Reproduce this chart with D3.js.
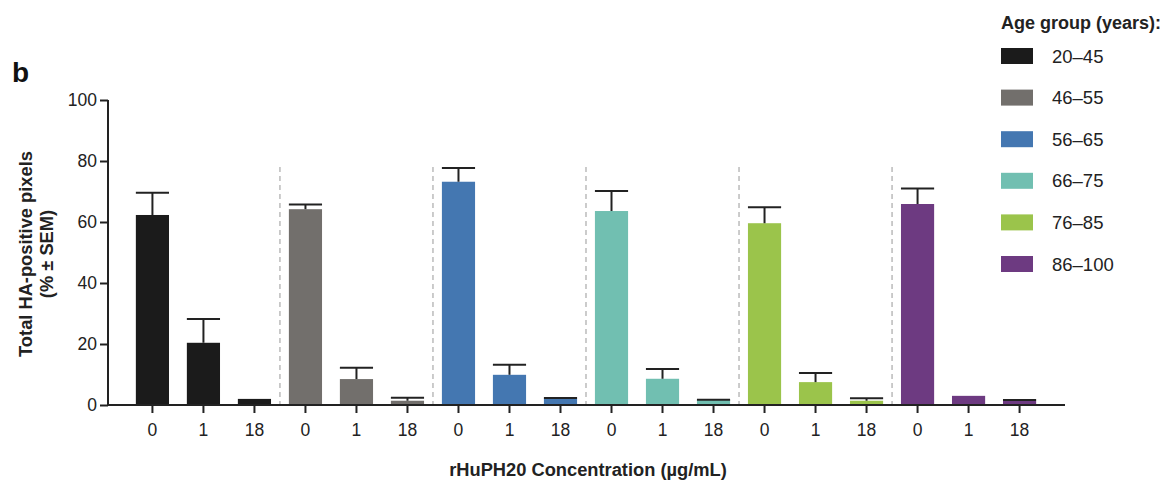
<!DOCTYPE html>
<html><head><meta charset="utf-8">
<script src="https://cdn.jsdelivr.net/npm/d3@7"></script>
<style>body{margin:0;background:#fff;} svg{display:block;font-family:"Liberation Sans",Arial,sans-serif;}</style>
</head><body>
<svg id="chart" width="1169" height="486"></svg>
<script>
const groups = ["20–45","46–55","56–65","66–75","76–85","86–100"];
const concentrations = ["0","1","18"];
const colors = ["#1b1b1b","#726f6c","#4477b1","#71bfb1","#9bc44b","#6d3a81"];
const means = [
  [62.3, 20.4, 2.0],
  [64.2, 8.5, 1.4],
  [73.2, 9.9, 2.1],
  [63.6, 8.6, 1.6],
  [59.6, 7.5, 1.4],
  [65.9, 3.0, 1.4]
];
const sems = [
  [7.3, 7.8, 0],
  [1.5, 3.7, 1.0],
  [4.5, 3.3, 0.2],
  [6.6, 3.2, 0.1],
  [5.2, 3.0, 0.8],
  [5.1, 0, 0.2]
];
const yTicks = [0,20,40,60,80,100];

const svg = d3.select("#chart");
const bars = [];
groups.forEach((g,gi)=>concentrations.forEach((c,ci)=>bars.push({id:gi+"-"+ci,g:gi,c,mean:means[gi][ci],sem:sems[gi][ci]})));

const x = d3.scaleBand().domain(bars.map(d=>d.id)).range([118,1054]).padding(0.35);
const y = d3.scaleLinear().domain([0,100]).range([405,100]);
const ink = "#222";
const FF = "Liberation Sans, Arial, sans-serif";

// separators
for(let gi=1; gi<groups.length; gi++){
  const xs = (x(gi+"-0") + x((gi-1)+"-2") + x.bandwidth())/2;
  svg.append("line").attr("x1",xs).attr("x2",xs).attr("y1",y(78)).attr("y2",y(0))
    .attr("stroke","#aaa").attr("stroke-width",1.2).attr("stroke-dasharray","5,4");
}

// bars
svg.selectAll("rect.bar").data(bars).join("rect").attr("class","bar")
  .attr("x",d=>x(d.id)).attr("width",x.bandwidth())
  .attr("y",d=>y(d.mean)).attr("height",d=>y(0)-y(d.mean))
  .attr("fill",d=>colors[d.g]);

// error bars
const eb = bars.filter(d=>d.sem>0);
svg.selectAll("line.ev").data(eb).join("line").attr("class","ev")
  .attr("x1",d=>x(d.id)+x.bandwidth()/2).attr("x2",d=>x(d.id)+x.bandwidth()/2)
  .attr("y1",d=>y(d.mean)).attr("y2",d=>y(d.mean+d.sem)).attr("stroke",ink).attr("stroke-width",2);
svg.selectAll("line.ec").data(eb).join("line").attr("class","ec")
  .attr("x1",d=>x(d.id)).attr("x2",d=>x(d.id)+x.bandwidth())
  .attr("y1",d=>y(d.mean+d.sem)).attr("y2",d=>y(d.mean+d.sem)).attr("stroke",ink).attr("stroke-width",2);

// y axis
const yAxis = svg.append("g").attr("transform","translate(108,0)")
  .call(d3.axisLeft(y).tickValues(yTicks).tickSize(8).tickPadding(3));
yAxis.select(".domain").attr("d","M0,"+(y(100))+"V"+(y(0)+1)).attr("stroke",ink).attr("stroke-width",2);
yAxis.selectAll(".tick line").attr("stroke",ink).attr("stroke-width",2);
yAxis.selectAll(".tick text").attr("font-size",17.5).attr("fill","#222").attr("font-family",FF);

// x axis
const xAxis = svg.append("g").attr("transform","translate(0,405)")
  .call(d3.axisBottom(x).tickFormat(id=>concentrations[+id.split("-")[1]]).tickSize(8).tickPadding(11));
xAxis.select(".domain").attr("d","M107,0H1065").attr("stroke",ink).attr("stroke-width",2);
xAxis.selectAll(".tick line").attr("stroke",ink).attr("stroke-width",2);
xAxis.selectAll(".tick text").attr("font-size",17.5).attr("fill","#222").attr("font-family",FF);

// titles
svg.append("text").attr("x",588).attr("y",476).attr("text-anchor","middle")
  .attr("font-size",18.3).attr("font-weight","bold").attr("fill","#222").text("rHuPH20 Concentration (µg/mL)");
const yt = svg.append("text").attr("transform","translate(32,254) rotate(-90)").attr("text-anchor","middle")
  .attr("font-size",18.3).attr("font-weight","bold").attr("fill","#222");
yt.append("tspan").attr("x",0).attr("dy",0).text("Total HA-positive pixels");
yt.append("tspan").attr("x",0).attr("dy",21).text("(% ± SEM)");

svg.append("text").attr("x",12).attr("y",82).attr("font-size",28).attr("font-weight","bold").attr("fill","#111").text("b");

// legend
svg.append("text").attr("x",1001).attr("y",29).attr("font-size",18).attr("font-weight","bold").attr("fill","#222").text("Age group (years):");
const lg = svg.selectAll("g.lg").data(groups).join("g").attr("class","lg")
  .attr("transform",(d,i)=>`translate(1001,${48+i*41.6})`);
lg.append("rect").attr("width",32).attr("height",16).attr("fill",(d,i)=>colors[i]);
lg.append("text").attr("x",51).attr("y",14.5).attr("font-size",18.5).attr("fill","#222").text(d=>d);
</script>
</body></html>
